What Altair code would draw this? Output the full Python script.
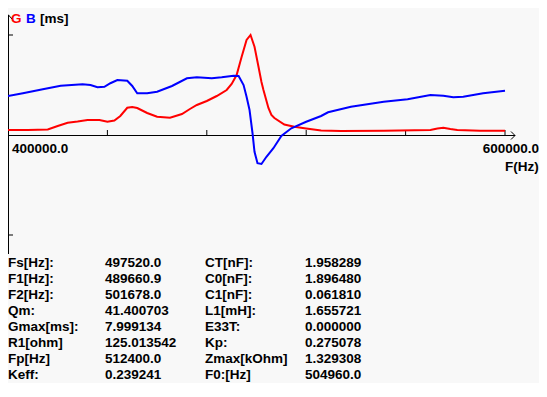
import altair as alt
import pandas as pd

# ---- data ----
freq_g = [400000, 408000, 416000, 420000, 424000, 428000, 432000, 436800, 440000, 442800,
          445200, 448000, 450000, 452000, 456000, 460000, 465200, 470000, 473200, 476000,
          480000, 484000, 488000, 490000, 492000, 494000, 496000, 497600, 499200, 500800,
          502000, 502800, 504800, 506000, 507200, 511200, 515200, 520000, 526000, 534000,
          551200, 570000, 572800, 575200, 578000, 580800, 590000, 600000]
g_ms = [0.40, 0.40, 0.44, 0.72, 0.98, 1.08, 1.20, 1.20, 1.06, 1.16,
        1.52, 2.18, 2.24, 2.16, 1.76, 1.46, 1.38, 1.68, 2.08, 2.40,
        2.72, 3.12, 3.60, 4.08, 4.80, 6.24, 7.60, 8.00, 7.06, 5.46,
        4.24, 3.60, 2.16, 1.60, 1.36, 0.84, 0.66, 0.52, 0.36, 0.32,
        0.34, 0.40, 0.52, 0.58, 0.48, 0.40, 0.34, 0.34]

freq_b = [400000, 406000, 414000, 421200, 430000, 433200, 436000, 438800, 441200, 444000,
          448000, 450000, 452000, 456000, 460000, 466000, 472000, 476000, 482000, 486000,
          490800, 492800, 494800, 496000, 497200, 498400, 499200, 500400, 502000, 504000,
          506800, 510000, 514000, 520000, 526000, 528800, 538000, 551200, 560800, 570000,
          575200, 579200, 583200, 591200, 600000]
b_ms = [3.12, 3.34, 3.66, 3.94, 4.06, 4.00, 3.82, 3.86, 4.14, 4.40,
        4.34, 3.92, 3.34, 3.34, 3.46, 3.92, 4.54, 4.62, 4.54, 4.62,
        4.74, 4.72, 4.00, 3.06, 2.00, 0.14, -1.34, -2.26, -2.32, -1.74,
        -1.06, -0.08, 0.54, 1.06, 1.52, 1.82, 2.26, 2.66, 2.86, 3.20,
        3.14, 3.02, 3.06, 3.34, 3.54]

x_ticks = [440000, 480000, 520000, 560000, 600000]
y_ticks = [-8, 8]
x_min_label = "400000.0"
x_max_label = "600000.0"
x_title = "F(Hz)"
legend_parts = ["G", "B", "[ms]"]
legend_colors = ["#ff0000", "#0000ff", "#000000"]

col1 = ["Fs[Hz]:", "F1[Hz]:", "F2[Hz]:", "Qm:", "Gmax[ms]:", "R1[ohm]", "Fp[Hz]", "Keff:"]
col2 = ["497520.0", "489660.9", "501678.0", "41.400703", "7.999134", "125.013542", "512400.0", "0.239241"]
col3 = ["CT[nF]:", "C0[nF]:", "C1[nF]:", "L1[mH]:", "E33T:", "Kp:", "Zmax[kOhm]", "F0:[Hz]"]
col4 = ["1.958289", "1.896480", "0.061810", "1.655721", "0.000000", "0.275078", "1.329308", "504960.0"]

# ---- layout ----
FONT = "Liberation Sans"
FS = 13.5
xs = alt.Scale(domain=[400000, 600000], range=[0, 497], nice=False, zero=False)
ys = alt.Scale(domain=[-8, 8], range=[227, 27], nice=False, zero=False)

g_df = pd.DataFrame({"f": freq_g, "v": g_ms})
b_df = pd.DataFrame({"f": freq_b, "v": b_ms})

g_line = alt.Chart(g_df).mark_line(color="#ff0000", strokeWidth=2).encode(
    x=alt.X("f:Q", scale=xs, axis=None), y=alt.Y("v:Q", scale=ys, axis=None))
b_line = alt.Chart(b_df).mark_line(color="#0000ff", strokeWidth=2).encode(
    x=alt.X("f:Q", scale=xs, axis=None), y=alt.Y("v:Q", scale=ys, axis=None))

one = pd.DataFrame({"a": [0]})
# axes lines
x_axis = alt.Chart(one).mark_rule(color="black", strokeWidth=1).encode(
    x=alt.value(0), x2=alt.value(507), y=alt.value(127.5))
y_axis = alt.Chart(one).mark_rule(color="black", strokeWidth=1).encode(
    x=alt.value(0.5), y=alt.value(7), y2=alt.value(246))
arrow_segs = pd.DataFrame({
    "x1": [503, 503, -4, 4], "y1": [123.5, 131.5, 11, 11],
    "x2": [507, 507, 0.5, 0.5], "y2": [127.5, 127.5, 7, 7]})
arrows = alt.Chart(arrow_segs).mark_rule(color="black", strokeWidth=1).encode(
    x=alt.X("x1:Q", scale=None), x2="x2:Q", y=alt.Y("y1:Q", scale=None), y2="y2:Q")

xt_df = pd.DataFrame({"f": x_ticks})
x_tick_marks = alt.Chart(xt_df).mark_rule(color="black", strokeWidth=1).encode(
    x=alt.X("f:Q", scale=xs, axis=None), y=alt.value(122), y2=alt.value(127.5))
yt_df = pd.DataFrame({"v": y_ticks})
y_tick_marks = alt.Chart(yt_df).mark_rule(color="black", strokeWidth=1).encode(
    y=alt.Y("v:Q", scale=ys, axis=None), x=alt.value(0), x2=alt.value(5))

def txt(s, x, y, color="black", align="left"):
    return alt.Chart(one).mark_text(
        text=s, align=align, baseline="alphabetic", font=FONT, fontSize=FS,
        fontWeight="bold", color=color).encode(x=alt.value(x), y=alt.value(y))

labels = [
    txt(x_min_label, 4, 145),
    txt(x_max_label, 531, 145, align="right"),
    txt(x_title, 497, 163),
]
leg_x = [3, 18, 32]
for s, c, lx in zip(legend_parts, legend_colors, leg_x):
    labels.append(txt(s, lx, 15, c))

rows = []
col_x = [0, 97, 197, 297]
for ci, col in enumerate([col1, col2, col3, col4]):
    for ri, s in enumerate(col):
        rows.append({"t": s, "px": col_x[ci], "py": 259 + 16 * ri})
tab_df = pd.DataFrame(rows)
table = alt.Chart(tab_df).mark_text(
    align="left", baseline="alphabetic", font=FONT, fontSize=FS,
    fontWeight="bold", color="black").encode(
    x=alt.X("px:Q", scale=None), y=alt.Y("py:Q", scale=None), text="t:N")

chart = alt.layer(
    x_axis, y_axis, arrows, x_tick_marks, y_tick_marks, g_line, b_line, table, *labels
).properties(
    width=531, height=375, background="#f8f8f8",
    autosize=alt.AutoSizeParams(type="none"), padding=0
).configure_view(stroke=None)

chart.save("out.html", embed_options={"renderer": "svg", "actions": False})
